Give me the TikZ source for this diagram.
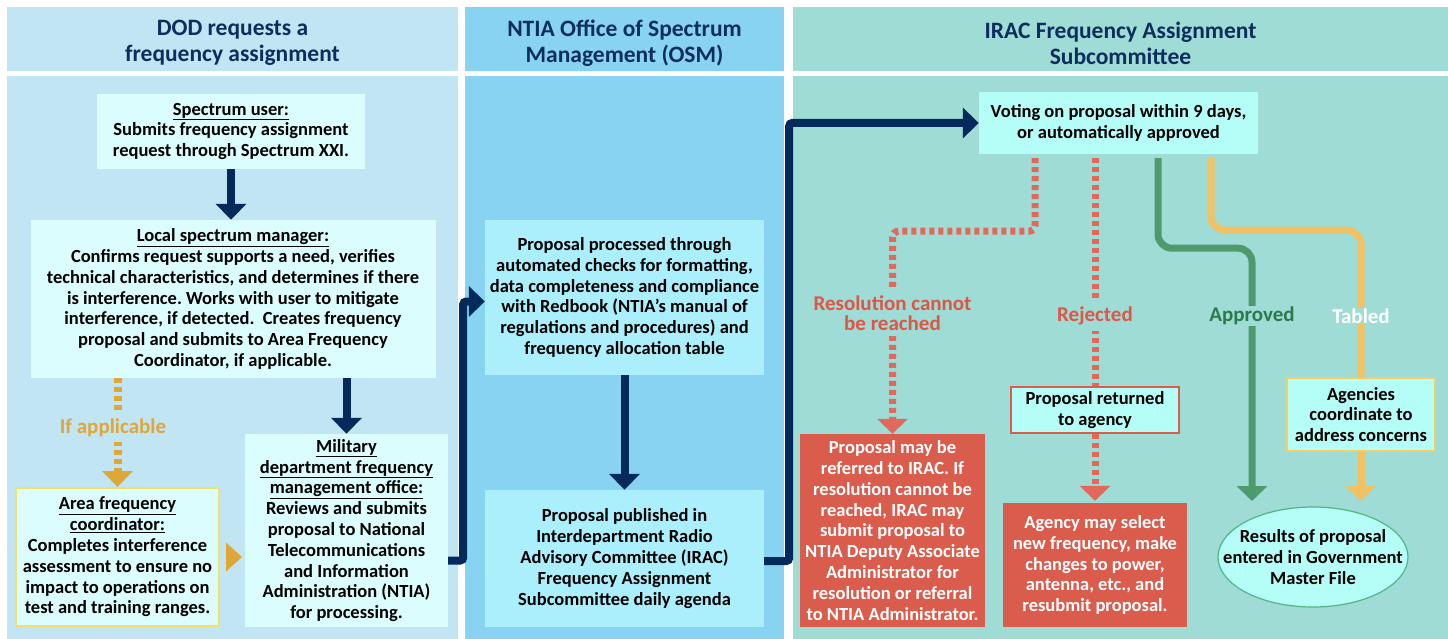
\documentclass[tikz,border=0pt]{standalone}
\usepackage{fontspec}
\setmainfont{Carlito}
\usetikzlibrary{arrows.meta,shapes.geometric}
\frenchspacing

\definecolor{colone}{HTML}{C2E5F3}
\definecolor{coltwo}{HTML}{88D3F1}
\definecolor{colthree}{HTML}{9EDCD5}
\definecolor{boxone}{HTML}{DCFDFE}
\definecolor{boxtwo}{HTML}{ABEFFC}
\definecolor{boxthree}{HTML}{B5FDF7}
\definecolor{navy}{HTML}{032A5A}
\definecolor{headtext}{HTML}{0D2E5C}
\definecolor{gold}{HTML}{DFA737}
\definecolor{redbox}{HTML}{D95C4C}
\definecolor{reddot}{HTML}{E2685A}
\definecolor{redtext}{HTML}{DD5646}
\definecolor{green}{HTML}{4F9A6D}
\definecolor{greentext}{HTML}{2C7A4B}
\definecolor{yellow}{HTML}{F1C165}
\definecolor{areaborder}{HTML}{F3E06A}
\definecolor{agborder}{HTML}{F4CC6A}
\definecolor{ellborder}{HTML}{52B585}

\begin{document}
\begin{tikzpicture}[x=1pt,y=-1pt,
  header/.style={inner sep=0pt, align=center, text=headtext,
    font=\fontsize{23.5}{26}\selectfont\bfseries},
  box/.style={inner sep=0pt, align=center, font=\fontsize{18.5}{20.8}\selectfont\bfseries},
  flowlabel/.style={inner xsep=3pt, inner ysep=5pt, align=center,
    font=\fontsize{21}{20.5}\selectfont\bfseries},
  navyarrow/.style={draw=navy, line width=8pt, -{Triangle[width=30pt,length=16pt]}},
  goldarrow/.style={draw=gold, line width=8pt, dash pattern=on 5pt off 4pt,
    -{Triangle[width=30pt,length=16pt]}},
  redline/.style={draw=reddot, line width=7pt, dash pattern=on 5pt off 4pt},
  tip/.style={-{Triangle[width=30pt,length=15pt]}}]

\useasboundingbox (0,0) rectangle (1448,639);
\fill[white] (0,0) rectangle (1448,639);

% column backgrounds
\fill[colone] (7,7) rectangle (458,71);
\fill[coltwo] (465,7) rectangle (784,71);
\fill[colthree] (793,7) rectangle (1448,71);
\fill[colone] (7,76) rectangle (458,639);
\fill[coltwo] (465,76) rectangle (784,639);
\fill[colthree] (793,76) rectangle (1448,639);

\node[header] (hdod) at (232.5,43) {DOD requests a\\frequency assignment};
\node[header] (hntia) at (624.5,43) {NTIA Office of Spectrum\\Management (OSM)};
\node[header] (hirac) at (1120.5,43) {IRAC Frequency Assignment\\Subcommittee};

% DOD column
\node[box, fill=boxone, minimum width=268pt, minimum height=75pt] (user) at (231,131.5)
  {\underline{Spectrum user:}\\Submits frequency assignment\\request through Spectrum XXI.};
\node[box, fill=boxone, minimum width=405pt, minimum height=158pt] (manager) at (233,299)
  {\underline{Local spectrum manager:}\\Confirms request supports a need, verifies\\technical characteristics, and determines if there\\is interference. Works with user to mitigate\\interference, if detected.\ \ Creates frequency\\proposal and submits to Area Frequency\\Coordinator, if applicable.};
\node[box, fill=boxone, draw=areaborder, line width=2pt, minimum width=203pt, minimum height=138pt] (area) at (117.5,557)
  {\underline{Area frequency}\\\underline{coordinator:}\\Completes interference\\assessment to ensure no\\impact to operations on\\test and training ranges.};
\node[box, fill=boxone, minimum width=203pt, minimum height=193pt] (military) at (346.5,530.5)
  {\underline{Military}\\\underline{department frequency}\\\underline{management office:}\\Reviews and submits\\proposal to National\\Telecommunications\\and Information\\Administration (NTIA)\\for processing.};

% OSM column
\node[box, fill=boxtwo, minimum width=279pt, minimum height=155pt] (processing) at (624.5,297.5)
  {Proposal processed through\\automated checks for formatting,\\data completeness and compliance\\with Redbook (NTIA’s manual of\\regulations and procedures) and\\frequency allocation table};
\node[box, fill=boxtwo, minimum width=279pt, minimum height=137pt] (published) at (624.5,558.5)
  {Proposal published in\\Interdepartment Radio\\Advisory Committee (IRAC)\\Frequency Assignment\\Subcommittee daily agenda};

% IRAC column
\node[box, fill=boxthree, minimum width=279pt, minimum height=62pt] (voting) at (1118.5,123)
  {Voting on proposal within 9 days,\\or automatically approved};
\node[box, fill=redbox, text=white, minimum width=185pt, minimum height=193pt] (referred) at (892.5,530.5)
  {Proposal may be\\referred to IRAC. If\\resolution cannot be\\reached, IRAC may\\submit proposal to\\NTIA Deputy Associate\\Administrator for\\resolution or referral\\to NTIA Administrator.};
\node[box, fill=boxthree, draw=redbox, line width=2pt, minimum width=168pt, minimum height=46pt] (returned) at (1095,410)
  {Proposal returned\\to agency};
\node[box, fill=redbox, text=white, minimum width=184pt, minimum height=124pt] (select) at (1095,565)
  {Agency may select\\new frequency, make\\changes to power,\\antenna, etc., and\\resubmit proposal.};
\node[box, fill=boxthree, draw=agborder, line width=2pt, minimum width=148pt, minimum height=73pt] (agencies) at (1361,414.5)
  {Agencies\\coordinate to\\address concerns};
\node[ellipse, fill=boxthree, draw=ellborder, line width=1.2pt, inner sep=0pt,
  minimum width=190pt, minimum height=100pt] (results) at (1313,557) {};
\node[box] (resultstext) at (results) {Results of proposal\\entered in Government\\Master File};

\coordinate (approvedend) at (1252,501);
\coordinate (tabledend) at (1361,501);

% connectors
\draw[navyarrow] (user.south) -- (user.south |- manager.north);
\draw[navyarrow] (manager.south -| military.north) -- (military.north);
\draw[goldarrow] (manager.south -| area.north) -- (area.north);
\fill[gold] ([xshift=6pt,yshift=14.5pt]area.east) -- ([xshift=22pt]area.east) -- ([xshift=6pt,yshift=-14.5pt]area.east) -- cycle;
\draw[navyarrow, rounded corners=3pt] ([yshift=-30pt]military.east) -- ++(15,0) |- ([yshift=-4pt]processing.west);
\draw[navyarrow] (processing.south) -- (published.north);
\draw[navyarrow, rounded corners=3pt] ([yshift=-2.5pt]published.east) -- ++(25,0) |- (voting.west);

\draw[redline, tip, rounded corners=6pt, shorten <=4pt] ([xshift=-83.5pt]voting.south) -- ++(0,77) -| (referred.north);
\draw[redline, shorten <=4pt] (voting.south -| returned.north) -- (returned.north);
\draw[redline, tip] (returned.south) -- ([yshift=2pt]select.north);
\draw[draw=green, line width=7pt, tip, rounded corners=14pt, shorten <=4pt] ([xshift=39.5pt]voting.south) -- ++(0,94) -| (approvedend);
\draw[draw=yellow, line width=7pt, rounded corners=14pt, shorten <=4pt] ([xshift=92.5pt]voting.south) -- ++(0,76) -| (agencies.north);
\draw[draw=yellow, line width=7pt, tip] (agencies.south) -- (tabledend);

% labels
\node[flowlabel, fill=colone, text=gold] (ifapp) at (113,428) {If applicable};
\node[flowlabel, fill=colthree, text=redtext] (unresolved) at (892.5,313) {Resolution cannot\\be reached};
\node[flowlabel, fill=colthree, text=redtext, inner ysep=6pt] (rejected) at (1095,316) {Rejected};
\node[flowlabel, fill=colthree, text=greentext, inner ysep=1pt] (approved) at (1252,316) {Approved};
\node[flowlabel, fill=colthree, text=white, inner ysep=1pt] (tabled) at (1361,316) {Tabled};
\end{tikzpicture}
\end{document}
